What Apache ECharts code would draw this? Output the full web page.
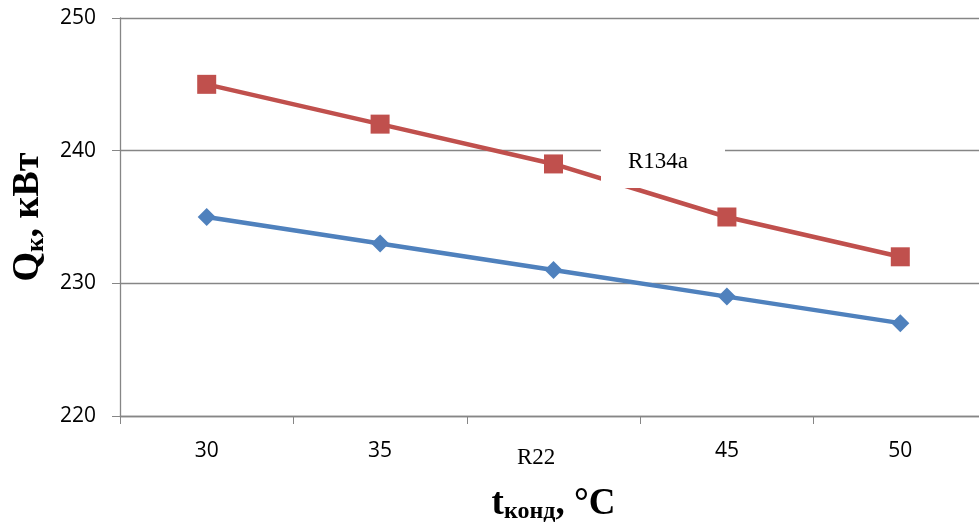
<!DOCTYPE html>
<html>
<head>
<meta charset="utf-8">
<script src="https://cdn.jsdelivr.net/npm/echarts@6/dist/echarts.min.js"></script>
<style>
  html, body { margin: 0; padding: 0; background: #fff; }
  #chart { width: 979px; height: 526px; }
</style>
</head>
<body>
<div id="chart"></div>
<script>
const categories = ['30', '35', '40', '45', '50']
const r134a = [245, 242, 239, 235, 232]
const r22 = [235, 233, 231, 229, 227]
const yTicks = { min: 220, max: 250, interval: 10 }

const chart = echarts.init(document.getElementById('chart'), null, { renderer: 'canvas' })
const serif = '"Liberation Serif", "DejaVu Serif", serif'
const axisGray = '#868686'

chart.setOption({
  animation: false,
  grid: { left: 120, top: 18, width: 867, height: 398, outerBoundsMode: 'none' },
  xAxis: {
    type: 'category',
    data: categories,
    boundaryGap: true,
    axisLine: { lineStyle: { color: axisGray, width: 1.3 } },
    axisTick: { show: true, length: 8, inside: false, lineStyle: { color: axisGray } },
    axisLabel: { color: '#000', fontSize: 21, margin: 25, fontFamily: '"Open Sans", sans-serif' },
    name: '{b|t}{s|конд}{b|, °C}',
    nameLocation: 'middle',
    nameGap: 68,
    nameTextStyle: {
      rich: {
        b: { fontFamily: serif, fontWeight: 'bold', fontSize: 37, color: '#000' },
        s: { fontFamily: serif, fontWeight: 'bold', fontSize: 24, color: '#000', padding: [16, 0, 0, 0] }
      }
    }
  },
  yAxis: {
    type: 'value',
    min: yTicks.min,
    max: yTicks.max,
    interval: yTicks.interval,
    axisLine: { show: true, lineStyle: { color: axisGray, width: 1.3 } },
    axisTick: { show: true, length: 8, lineStyle: { color: axisGray } },
    splitLine: { lineStyle: { color: axisGray, width: 1.3 } },
    axisLabel: { color: '#000', fontSize: 21, margin: 24, fontFamily: '"Open Sans", sans-serif' },
    name: '{b|Q}{s|к}{b|, кВт}',
    nameLocation: 'middle',
    nameRotate: 90,
    nameGap: 62,
    nameTextStyle: {
      rich: {
        b: { fontFamily: serif, fontWeight: 'bold', fontSize: 38, color: '#000' },
        s: { fontFamily: serif, fontWeight: 'bold', fontSize: 25, color: '#000', padding: [16, 0, 0, 0] }
      }
    }
  },
  series: [
    {
      name: 'R134a',
      type: 'line',
      data: r134a,
      symbol: 'rect',
      symbolSize: 19,
      lineStyle: { color: '#C0504D', width: 4.5 },
      itemStyle: { color: '#C0504D' },
      z: 3
    },
    {
      name: 'R22',
      type: 'line',
      data: r22,
      symbol: 'diamond',
      symbolSize: 18,
      lineStyle: { color: '#4F81BD', width: 4.5 },
      itemStyle: { color: '#4F81BD' },
      z: 3
    }
  ],
  graphic: [
    {
      type: 'rect',
      z: 100,
      shape: { x: 601, y: 140, width: 124, height: 48 },
      style: { fill: '#fff' }
    },
    {
      type: 'text',
      z: 101,
      left: 628,
      top: 150,
      style: { text: 'R134a', font: '23px ' + serif, fill: '#000' }
    },
    {
      type: 'rect',
      z: 100,
      shape: { x: 500, y: 432, width: 78, height: 44 },
      style: { fill: '#fff' }
    },
    {
      type: 'text',
      z: 101,
      left: 517,
      top: 446,
      style: { text: 'R22', font: '23px ' + serif, fill: '#000' }
    }
  ]
})
</script>
</body>
</html>
